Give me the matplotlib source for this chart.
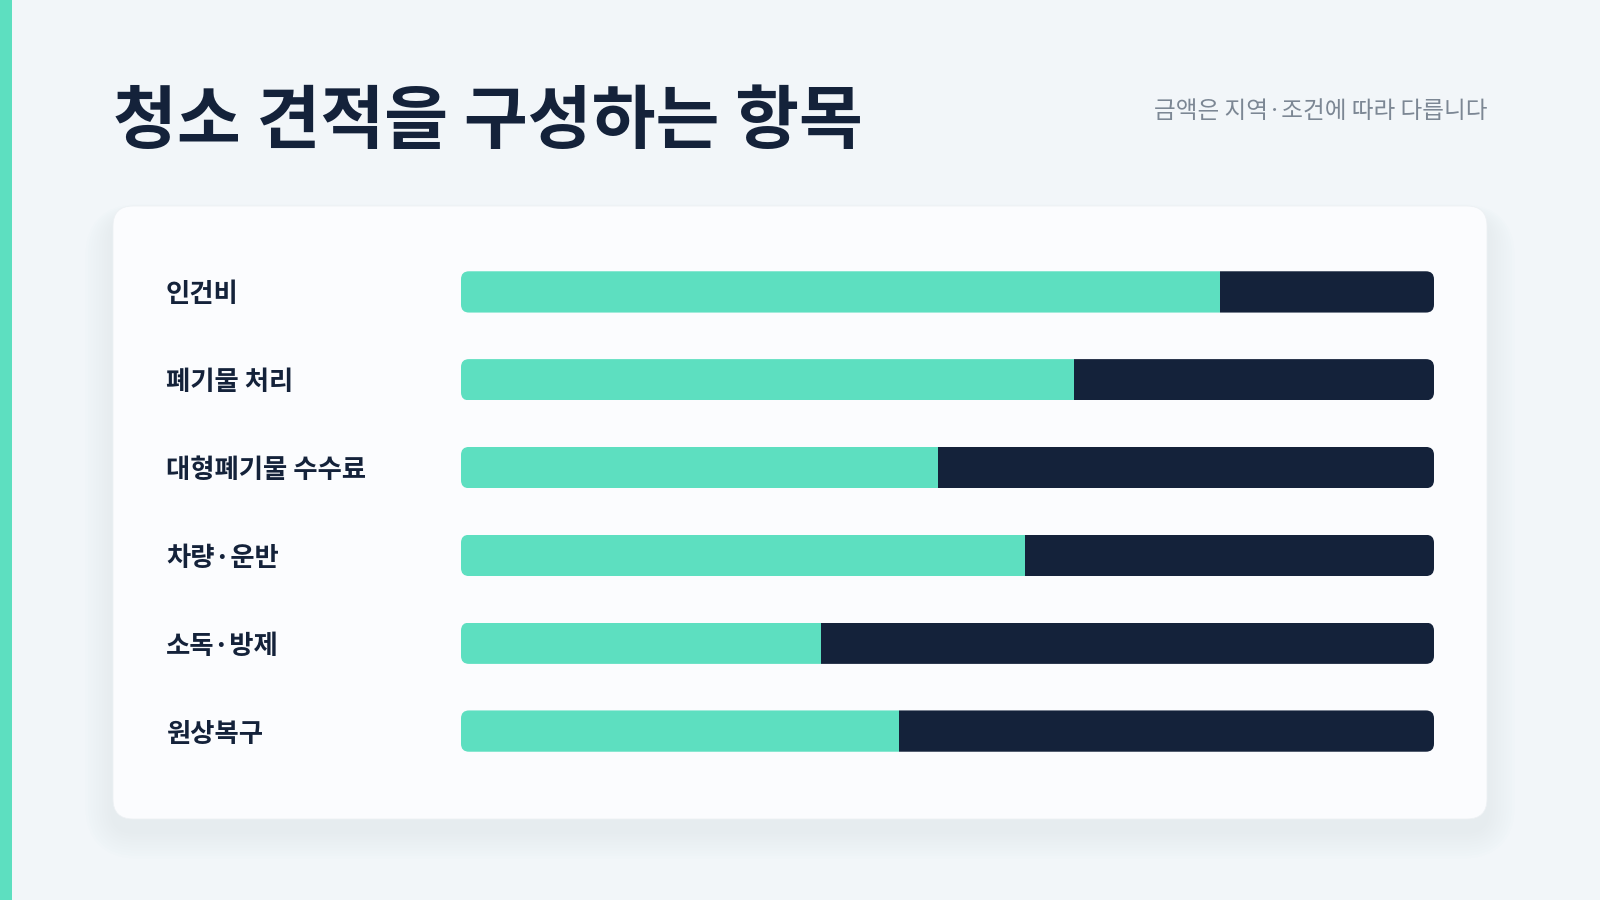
import matplotlib
matplotlib.use('Agg')
import matplotlib.pyplot as plt
from matplotlib.patches import FancyBboxPatch, Rectangle
import numpy as np

# ---- data ----
categories = ['인건비', '폐기물 처리', '대형폐기물 수수료', '차량·운반', '소독·방제', '원상복구']
share = [78, 63, 49, 58, 37, 45]          # teal part (%)
total = [100, 100, 100, 100, 100, 100]    # full track (%)
title = '청소 견적을 구성하는 항목'
subtitle = '금액은 지역·조건에 따라 다릅니다'

TEAL = '#5ddfc0'
NAVY = '#14223a'
BG = '#f2f6f9'
CARD = '#fbfcfe'
GRAY = '#7c8794'

plt.rcParams['font.family'] = ['Noto Sans CJK KR', 'DejaVu Sans']

W, H = 1600, 900
fig = plt.figure(figsize=(16, 9), dpi=100, facecolor=BG)

# background / decoration layer in pixel coordinates
bg = fig.add_axes([0, 0, 1, 1], zorder=0)
bg.set_xlim(0, W)
bg.set_ylim(H, 0)
bg.axis('off')

bg.add_patch(Rectangle((0, 0), 12, H, color=TEAL, lw=0))

card_x, card_y, card_w, card_h = 113, 206, 1374, 613
# soft shadow
for k in range(1, 11):
    s = k * 3.5
    bg.add_patch(FancyBboxPatch((card_x - s * 0.8, card_y + 12 - s * 0.4),
                                card_w + s * 1.6, card_h + s * 1.2,
                                boxstyle=f'round,pad=0,rounding_size={20 + s}',
                                fc='#707a84', ec='none', alpha=2 / 255, zorder=1))
bg.add_patch(FancyBboxPatch((card_x, card_y), card_w, card_h,
                            boxstyle='round,pad=0,rounding_size=20',
                            fc=CARD, ec='#edf1f4', lw=0.6, zorder=2))

bg.text(113, 123, title, fontsize=50, fontweight='bold', color=NAVY,
        ha='left', va='center', zorder=3)
bg.text(1487, 112, subtitle, fontsize=17, color=GRAY,
        ha='right', va='center', zorder=3)

# ---- bar chart ----
ax_left, ax_right = 461, 1434
ax_top, ax_bot = 248, 775
ax = fig.add_axes([ax_left / W, 1 - ax_bot / H, (ax_right - ax_left) / W, (ax_bot - ax_top) / H],
                  zorder=3)
ax.patch.set_alpha(0)

y = np.arange(len(categories))
h = 0.47
rest = [t - s for t, s in zip(total, share)]
b1 = ax.barh(y, share, height=h, color=TEAL, lw=0)
b2 = ax.barh(y, rest, left=share, height=h, color=NAVY, lw=0)
ax.set_xlim(0, 100)
ax.set_ylim(len(categories) - 0.5, -0.5)

px_x = (ax_right - ax_left) / 100.0
px_y = (ax_bot - ax_top) / len(categories)
r = 8
for i in range(len(categories)):
    clip = FancyBboxPatch((0, y[i] - h / 2), total[i], h,
                          boxstyle=f'round,pad=0,rounding_size={r / px_x}',
                          mutation_aspect=px_x / px_y,
                          transform=ax.transData, fc='none', ec='none')
    ax.add_patch(clip)
    b1[i].set_clip_path(clip)
    b2[i].set_clip_path(clip)

for sp in ax.spines.values():
    sp.set_visible(False)
ax.set_xticks([])
ax.set_yticks(y, categories, fontsize=19, fontweight='bold', color=NAVY)
ax.tick_params(axis='y', length=0, pad=(ax_left - 166) * 0.72)
for lbl in ax.get_yticklabels():
    lbl.set_ha('left')

fig.savefig('out.png', dpi=100, facecolor=BG)
